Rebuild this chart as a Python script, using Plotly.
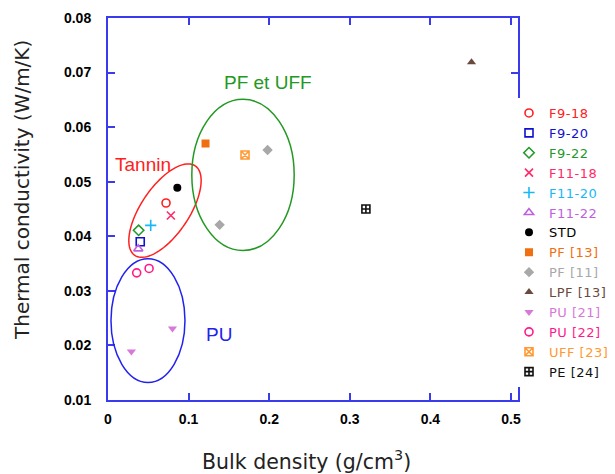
import numpy as np
import plotly.graph_objects as go

# ---------------- data ----------------
series_names = ["F9-18", "F9-20", "F9-22", "F11-18", "F11-20", "F11-22", "STD",
                "PF [13]", "PF [11]", "LPF [13]", "PU [21]", "PU [22]", "UFF [23]", "PE [24]"]
density = [[0.072], [0.040], [0.038], [0.078], [0.053], [0.0376], [0.086],
           [0.121], [0.198, 0.1385], [0.451], [0.029, 0.080], [0.0356, 0.051], [0.170], [0.320]]
conductivity = [[0.0461], [0.039], [0.0411], [0.0438], [0.042], [0.0377], [0.0489],
                [0.057], [0.0558, 0.0421], [0.0719], [0.0189, 0.0231], [0.0333, 0.0341], [0.0549], [0.045]]
colors = ["#ff2020", "#1010d0", "#22992a", "#ff2a6a", "#18b8f8", "#c060e0", "#000000",
          "#f07010", "#a8a8a8", "#6b4a3e", "#d878d8", "#ff1a8c", "#ff9933", "#111111"]
symbols = ["circle-open", "square-open", "diamond-open", "x-thin-open", "cross-thin-open",
           "triangle-up-open", "circle", "square", "diamond", "triangle-up",
           "triangle-down", "circle-open", "square-x-open", "square-cross-open"]

x_ticks = [0, 0.1, 0.2, 0.3, 0.4, 0.5]
x_tick_labels = ["0", "0.1", "0.2", "0.3", "0.4", "0.5"]
y_ticks = [0.01, 0.02, 0.03, 0.04, 0.05, 0.06, 0.07, 0.08]
y_tick_labels = ["0.01", "0.02", "0.03", "0.04", "0.05", "0.06", "0.07", "0.08"]

group_labels = ["Tannin", "PF et UFF", "PU"]
group_colors = ["#ff2020", "#229922", "#2222ee"]

fig = go.Figure()
for name, xs, ys, c, s in zip(series_names, density, conductivity, colors, symbols):
    lw = 1.6 if "open" in s else 0
    fig.add_trace(go.Scatter(
        x=xs, y=ys, mode="markers",
        name=f'<span style="color:{c};letter-spacing:0.5px">{name}</span>',
        marker=dict(symbol=s, size=8, color=c, line=dict(color=c, width=lw)),
    ))

# ---------------- group ellipses ----------------
PX_PER_X = 806.0
PX_PER_Y = 5457.0
t = np.linspace(0, 2 * np.pi, 90)
cx, cy, a, b, th = 0.0707, 0.0447, 54, 24, np.deg2rad(56)
u, v = a * np.cos(t), b * np.sin(t)
ex = cx + (u * np.cos(th) - v * np.sin(th)) / PX_PER_X
ey = cy + (u * np.sin(th) + v * np.cos(th)) / PX_PER_Y
path = "M " + " L ".join(f"{px:.5f},{py:.5f}" for px, py in zip(ex, ey)) + " Z"
fig.add_shape(type="path", path=path, xref="x", yref="y",
              line=dict(color=group_colors[0], width=1.5))
fig.add_shape(type="circle", xref="x", yref="y", x0=0.104, x1=0.231, y0=0.0374, y1=0.0651,
              line=dict(color=group_colors[1], width=1.5))
fig.add_shape(type="circle", xref="x", yref="y", x0=0.0037, x1=0.0955, y0=0.0132, y1=0.0359,
              line=dict(color=group_colors[2], width=1.5))

label_pos = [(0.044, 0.0532), (0.198, 0.0682), (0.1377, 0.0220)]
for lab, col, (lx, ly) in zip(group_labels, group_colors, label_pos):
    fig.add_annotation(x=lx, y=ly, xref="x", yref="y", text=lab, showarrow=False,
                       font=dict(family="Liberation Sans, Arial", size=19, color=col))

# axis titles
fig.add_annotation(x=(306 - 108) / 410, y=-(461 - 400) / 382, xref="paper", yref="paper",
                   xanchor="center", yanchor="middle",
                   text="Bulk density (g/cm<sup>3</sup>)", showarrow=False,
                   font=dict(family="DejaVu Sans", size=20.5, color="#222222"))
fig.add_annotation(x=(22 - 108) / 410, y=(400 - 190) / 382, xref="paper", yref="paper",
                   xanchor="center", yanchor="middle",
                   text="Thermal conductivity (W/m/K)", textangle=-90, showarrow=False,
                   font=dict(family="DejaVu Sans", size=20, color="#222222"))

axis_color = "#3a3aee"
tick_font = dict(family="Liberation Sans, Arial", size=14, color="black", weight="bold")
fig.update_xaxes(range=[0, 0.5087], tickvals=x_ticks, ticktext=x_tick_labels,
                 showline=True, linecolor=axis_color, linewidth=2, mirror="ticks",
                 ticks="inside", ticklen=7, tickwidth=2, tickcolor=axis_color,
                 showgrid=False, zeroline=False, ticklabelstandoff=5, tickfont=tick_font)
fig.update_yaxes(range=[0.01, 0.08], tickvals=y_ticks, ticktext=y_tick_labels,
                 showline=True, linecolor=axis_color, linewidth=2, mirror="ticks",
                 ticks="inside", ticklen=7, tickwidth=2, tickcolor=axis_color,
                 showgrid=False, zeroline=False, ticklabelstandoff=12, tickfont=tick_font)

fig.update_layout(
    width=607, height=466,
    margin=dict(l=100, r=97, t=10, b=74, autoexpand=False),
    plot_bgcolor="white", paper_bgcolor="white",
    showlegend=True,
    legend=dict(x=(509 - 108) / 410, xanchor="left", y=(400 - 98) / 382, yanchor="top",
                bgcolor="white", borderwidth=0, tracegroupgap=0,
                font=dict(family="DejaVu Sans", size=13, color="black")),
)

fig.write_html("out.html")
